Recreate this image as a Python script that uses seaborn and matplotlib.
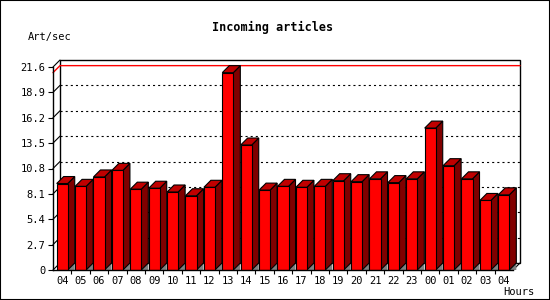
import matplotlib
matplotlib.use("Agg")
import matplotlib.pyplot as plt
import seaborn as sns
import numpy as np
import pandas as pd
from matplotlib.patches import Polygon, Rectangle

# ---- data ----
hours = ["04", "05", "06", "07", "08", "09", "10", "11", "12", "13", "14", "15",
         "16", "17", "18", "19", "20", "21", "22", "23", "00", "01", "02", "03", "04"]
values = [9.2, 8.9, 9.9, 10.6, 8.6, 8.7, 8.3, 7.9, 8.8, 21.0, 13.3, 8.5,
          8.9, 8.8, 8.9, 9.5, 9.4, 9.7, 9.3, 9.7, 15.1, 11.1, 9.7, 7.4, 8.0]
yticks = [0, 2.7, 5.4, 8.1, 10.8, 13.5, 16.2, 18.9, 21.6]
ytick_labels = ["0", "2.7", "5.4", "8.1", "10.8", "13.5", "16.2", "18.9", "21.6"]
title = "Incoming articles"
ylabel = "Art/sec"
xlabel = "Hours"

sns.set_theme(style="white")
plt.rcParams['font.family'] = ['DejaVu Sans Mono', 'DejaVu Sans']
plt.rcParams['lines.scale_dashes'] = False

W, H = 550, 300
fig = plt.figure(figsize=(W / 100, H / 100), dpi=100)
fig.patch.set_facecolor('white')
ax = fig.add_axes([53 / W, 30 / H, 460 / W, 203 / H])
ax.set_facecolor('none')

df = pd.DataFrame({'pos': list(range(len(values))), 'val': values})
sns.barplot(data=df, x='pos', y='val', color='#ff0000', saturation=1, width=0.6,
            edgecolor='black', linewidth=0.8, ax=ax, zorder=3)

n = len(values)
ymax = yticks[-1]
ax.set_xlim(-0.5, n - 0.5)
ax.set_ylim(0, ymax)

# depth offset (7 px) in data units
DX = 7 / (460 / n)
DY = 7 / (203 / ymax)

# back plane
ax.add_patch(Rectangle((-0.5 + DX, DY), n, ymax, facecolor='white', edgecolor='black',
                       lw=1, clip_on=False, zorder=0))
for t in yticks[1:-1]:
    ax.plot([-0.5 + DX, n - 0.5 + DX], [t + DY, t + DY], color='black', lw=0.8,
            ls=(0, (1.5, 2.2)), clip_on=False, zorder=1)
# left wall diagonals
for t in yticks:
    ax.plot([-0.5, -0.5 + DX], [t, t + DY], color='black', lw=0.8, clip_on=False, zorder=1)
ax.plot([n - 0.5, n - 0.5 + DX], [0, DY], color='black', lw=0.8, clip_on=False, zorder=1)
# max line
m = max(values)
ax.plot([-0.5, -0.5 + DX, n - 0.5 + DX], [m, m + DY, m + DY], color='#ff0000', lw=1,
        clip_on=False, zorder=1.5)

# 3D faces from the seaborn bars
bars = list(ax.patches)[1:] if False else [p for p in ax.patches if p.get_facecolor()[:3] == (1.0, 0.0, 0.0)]
for p in bars:
    x0 = p.get_x()
    w = p.get_width()
    h = p.get_height()
    x1 = x0 + w
    ax.add_patch(Polygon([(x1, 0), (x1 + DX, DY), (x1 + DX, 0)], closed=True,
                         facecolor='#808080', edgecolor='none', zorder=2, clip_on=False))
    ax.add_patch(Polygon([(x1, 0), (x1, h), (x1 + DX, h + DY), (x1 + DX, DY)], closed=True,
                         facecolor='#800000', edgecolor='black', lw=0.8, zorder=2.5,
                         clip_on=False))
    ax.add_patch(Polygon([(x0, h), (x1, h), (x1 + DX, h + DY), (x0 + DX, h + DY)], closed=True,
                         facecolor='#c00000', edgecolor='black', lw=0.8, zorder=2.5,
                         clip_on=False))

# axes styling
for s in ['top', 'right']:
    ax.spines[s].set_visible(False)
for s in ['left', 'bottom']:
    ax.spines[s].set_color('black')
    ax.spines[s].set_linewidth(1)
    ax.spines[s].set_zorder(4)

ax.set_yticks(yticks)
ax.set_yticklabels(ytick_labels)
ax.set_xticks(range(n))
ax.set_xticklabels(hours)
ax.set_xticks(np.arange(0.5, n - 0.5, 1), minor=True)
ax.tick_params(axis='y', which='major', length=3.6, width=0.8, color='black', pad=2,
               labelsize=7.5, labelcolor='black', left=True, direction='out')
ax.tick_params(axis='x', which='major', length=0, pad=4, labelsize=7.5, labelcolor='black')
ax.tick_params(axis='x', which='minor', length=3, width=0.8, color='black', bottom=True,
               direction='out')
ax.set_xlabel('')
ax.set_ylabel('')

fig.text(273 / W, 1 - 27 / H, title, ha='center', va='center', fontsize=8.5,
         fontweight='bold', color='black')
fig.text(28 / W, 1 - 37 / H, ylabel, ha='left', va='center', fontsize=7.5, color='black')
fig.text(534 / W, 1 - 292 / H, xlabel, ha='right', va='center', fontsize=7.5, color='black')

fig.add_artist(Rectangle((0, 0), 1, 1, transform=fig.transFigure, fill=False,
                         edgecolor='black', lw=1.5))

fig.savefig('out.png', dpi=100)
